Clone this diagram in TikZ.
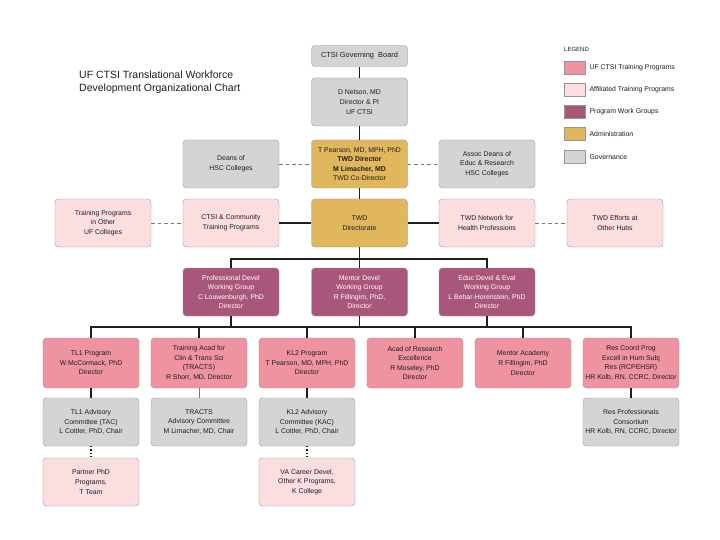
\documentclass[tikz,border=0pt]{standalone}
\usepackage{fontspec}
\setmainfont{Liberation Sans}
\usepackage{xcolor}
\definecolor{rose}{RGB}{239,147,160}
\definecolor{blush}{RGB}{252,221,224}
\definecolor{plum}{RGB}{168,86,122}
\definecolor{ochre}{RGB}{224,183,92}
\definecolor{ash}{RGB}{212,212,212}
\definecolor{rim}{RGB}{150,150,150}
\definecolor{ink}{RGB}{30,30,30}
\usepackage{tikz}
\usetikzlibrary{positioning}
\tikzset{
  orgbox/.style={
    draw=rim, thin, rounded corners=3.5pt,
    minimum width=96pt, minimum height=48pt,
    inner sep=1pt, align=center,
    font=\fontsize{6.9}{9.6}\selectfont, text=ink,
  },
  trainbox/.style={orgbox, fill=rose},
  affbox/.style={orgbox, fill=blush},
  groupbox/.style={orgbox, fill=plum, text=white},
  adminbox/.style={orgbox, fill=ochre},
  govbox/.style={orgbox, fill=ash},
  link/.style={draw=ink, line width=1.2pt},
  spine/.style={draw=ink, line width=1.7pt},
  dashlink/.style={draw=ink!60, line width=0.9pt, dash pattern=on 3.5pt off 3pt},
  dotlink/.style={draw=ink, line width=1.2pt, dash pattern=on 1.2pt off 2pt},
  swatch/.style={draw=rim, thin, minimum width=21pt, minimum height=13pt,
                 inner sep=0pt, anchor=north west},
  legtext/.style={font=\fontsize{6.9}{8}\selectfont, text=ink, inner sep=0pt},
}

\begin{document}
\begin{tikzpicture}[x=1pt,y=-1pt]
\useasboundingbox[fill=white] (0,0) rectangle (720,540);

% title and legend
\node[anchor=north west, align=left, inner sep=0pt, text=ink,
      font=\fontsize{10.5}{13}\selectfont] (title) at (79,71)
  {UF CTSI Translational Workforce\\Development Organizational Chart};
\node[legtext, anchor=west, font=\fontsize{6}{7}\selectfont] (legend) at (564,49) {LEGEND};
\node[swatch, fill=rose]  (leg1) at (564,61)  {};
\node[swatch, fill=blush] (leg2) at (564,83)  {};
\node[swatch, fill=plum]  (leg3) at (564,105) {};
\node[swatch, fill=ochre] (leg4) at (564,127) {};
\node[swatch, fill=ash]   (leg5) at (564,150) {};
\node[legtext, right=4pt of leg1] {UF CTSI Training Programs};
\node[legtext, right=4pt of leg2] {Affiliated Training Programs};
\node[legtext, right=4pt of leg3] {Program Work Groups};
\node[legtext, right=4pt of leg4] {Administration};
\node[legtext, right=4pt of leg5] {Governance};

% governance and administration
\node[govbox, minimum height=21pt, font=\fontsize{7.4}{9}\selectfont] (gov) at (359.5,56) {CTSI Governing\ \ Board};
\node[govbox] (nelson) at (359.5,102) {D Nelson, MD\\Director \& PI\\UF CTSI};
\node[adminbox] (twddir) at (359.5,164)
  {T Pearson, MD, MPH, PhD\\\textbf{TWD Director}\\\textbf{M Limacher, MD}\\TWD Co-Director};
\node[govbox] (deans) at (231,164) {Deans of\\HSC Colleges};
\node[govbox] (assoc) at (487,164) {Assoc Deans of\\Educ \& Research\\HSC Colleges};

% directorate row
\node[affbox] (otheruf) at (103,223) {Training Programs\\in Other\\UF Colleges};
\node[affbox] (ctsicomm) at (231,223) {CTSI \& Community\\Training Programs};
\node[adminbox] (directorate) at (359.5,223) {TWD\\Directorate};
\node[affbox] (network) at (487,223) {TWD Network for\\Health Professions};
\node[affbox] (hubs) at (615,223) {TWD Efforts at\\Other Hubs};

% work groups
\node[groupbox] (wg1) at (231,292) {Professional Devel\\Working Group\\C Louwenburgh, PhD\\Director};
\node[groupbox] (wg2) at (359.5,292) {Mentor Devel\\Working Group\\R Fillingim, PhD,\\Director};
\node[groupbox] (wg3) at (487,292) {Educ Devel \& Eval\\Working Group\\L Behar-Horenstein, PhD\\Director};

% training programs
\node[trainbox, minimum height=50pt] (tl1) at (91,363) {TL1 Program\\W McCormack, PhD\\Director};
\node[trainbox, minimum height=50pt] (tracts) at (199,363) {Training Acad for\\Clin \& Trans Sci\\(TRACTS)\\R Shorr, MD, Director};
\node[trainbox, minimum height=50pt] (kl2) at (307,363) {KL2 Program\\T Pearson, MD, MPH, PhD\\Director};
\node[trainbox, minimum height=50pt] (acad) at (415,363) {Acad of Research\\Excellence\\R Moseley, PhD\\Director};
\node[trainbox, minimum height=50pt] (mentor) at (523,363) {Mentor Academy\\R Fillingim, PhD\\Director};
\node[trainbox, minimum height=50pt] (rescoord) at (631,363) {Res Coord Prog\\Excell in Hum Subj\\Res (RCPEHSR)\\HR Kolb, RN, CCRC, Director};

% committees
\node[govbox] (tl1adv) at (91,422) {TL1 Advisory\\Committee (TAC)\\L Cottler, PhD, Chair};
\node[govbox] (tractsadv) at (199,422) {TRACTS\\Advisory Committee\\M Limacher, MD, Chair};
\node[govbox] (kl2adv) at (307,422) {KL2 Advisory\\Committee (KAC)\\L Cottler, PhD, Chair};
\node[govbox] (resprof) at (631,422) {Res Professionals\\Consortium\\HR Kolb, RN, CCRC, Director};
\node[affbox] (partner) at (91,482) {Partner PhD\\Programs,\\T Team};
\node[affbox] (vacareer) at (307,482) {VA Career Devel,\\Other K Programs,\\K College};

% connectors
\coordinate (bus1) at (359.5,259);
\coordinate (bus2) at (359.5,327);
\draw[spine] (gov) -- (nelson);
\draw[spine] (nelson) -- (twddir);
\draw[spine] (twddir) -- (directorate);
\draw[dashlink] (deans) -- (twddir);
\draw[dashlink] (twddir) -- (assoc);
\draw[dashlink] (otheruf) -- (ctsicomm);
\draw[dashlink] (network) -- (hubs);
\draw[link] (ctsicomm) -- (directorate);
\draw[link] (directorate) -- (network);
\draw[spine] (directorate) -- (bus1);
\draw[link] (wg1.north) |- (bus1) -| (wg3.north);
\draw[link] (bus1) -- (wg2);
\draw[link] (tl1.north) |- (bus2) -| (rescoord.north);
\draw[link] (wg1.south) -- (wg1.south |- bus2);
\draw[link] (wg2.south) -- (wg2.south |- bus2);
\draw[link] (wg3.south) -- (wg3.south |- bus2);
\draw[link] (tracts.north) -- (tracts.north |- bus2);
\draw[link] (kl2.north) -- (kl2.north |- bus2);
\draw[link] (acad.north) -- (acad.north |- bus2);
\draw[link] (mentor.north) -- (mentor.north |- bus2);
\draw[spine] (tl1) -- (tl1adv);
\draw[link, draw=ink!60, line width=0.8pt] (tracts) -- (tractsadv);
\draw[spine] (kl2) -- (kl2adv);
\draw[link] (rescoord) -- (resprof);
\draw[dotlink] (tl1adv) -- (partner);
\draw[dotlink] (kl2adv) -- (vacareer);
\end{tikzpicture}
\end{document}
